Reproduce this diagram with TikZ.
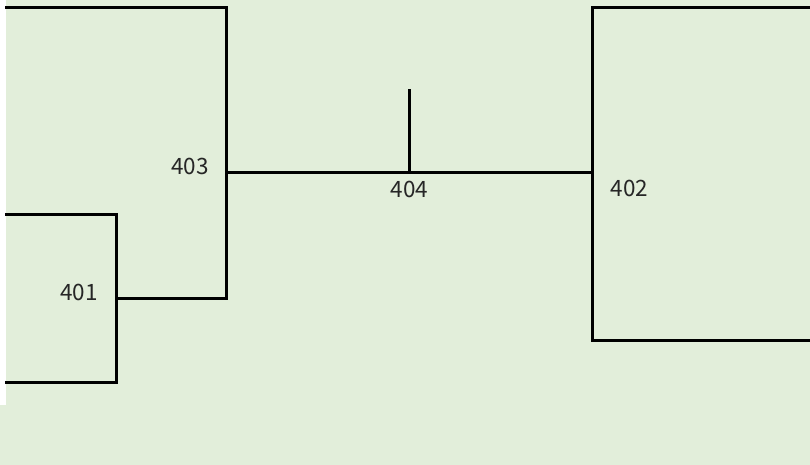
\documentclass[tikz,border=0pt]{standalone}
\usepackage{fontspec}
\newfontfamily\jpfont{Noto Sans CJK JP}
\definecolor{bg}{HTML}{E2EEDA}
\begin{document}
\begin{tikzpicture}[x=1pt,y=-1pt,
  wire/.style={line width=3pt,line cap=rect,line join=miter,black},
  lbl/.style={inner sep=0pt,font=\jpfont\fontsize{22.5}{24}\selectfont,text=black!85}]
\useasboundingbox (0,0) rectangle (810,465);
\fill[bg] (0,0) rectangle (810,465);
\fill[white] (0,0) rectangle (6,405);
% 403
\draw[wire] (6,7.5) -- (226,7.5) -- (226,298.5) -- (116.5,298.5);
% 401
\draw[wire] (6,214.5) -- (116.5,214.5) -- (116.5,382.5) -- (6,382.5);
% 402
\draw[wire] (810,7.5) -- (592.5,7.5) -- (592.5,340.5) -- (810,340.5);
% 404
\coordinate (a) at (226,172);
\coordinate (b) at (592.5,172);
\coordinate (t) at (409.5,172);
\coordinate (tt) at (409.5,89);
\draw[wire] (a) -- (b);
\draw[wire,line cap=butt] (t) -- (tt);
\node[lbl] (l403) at (190,166) {403};
\node[lbl] (l404) at (409.5,189.5) {404};
\node[lbl] (l401) at (79,292.5) {401};
\node[lbl] (l402) at (629.5,188) {402};
\end{tikzpicture}
\end{document}
